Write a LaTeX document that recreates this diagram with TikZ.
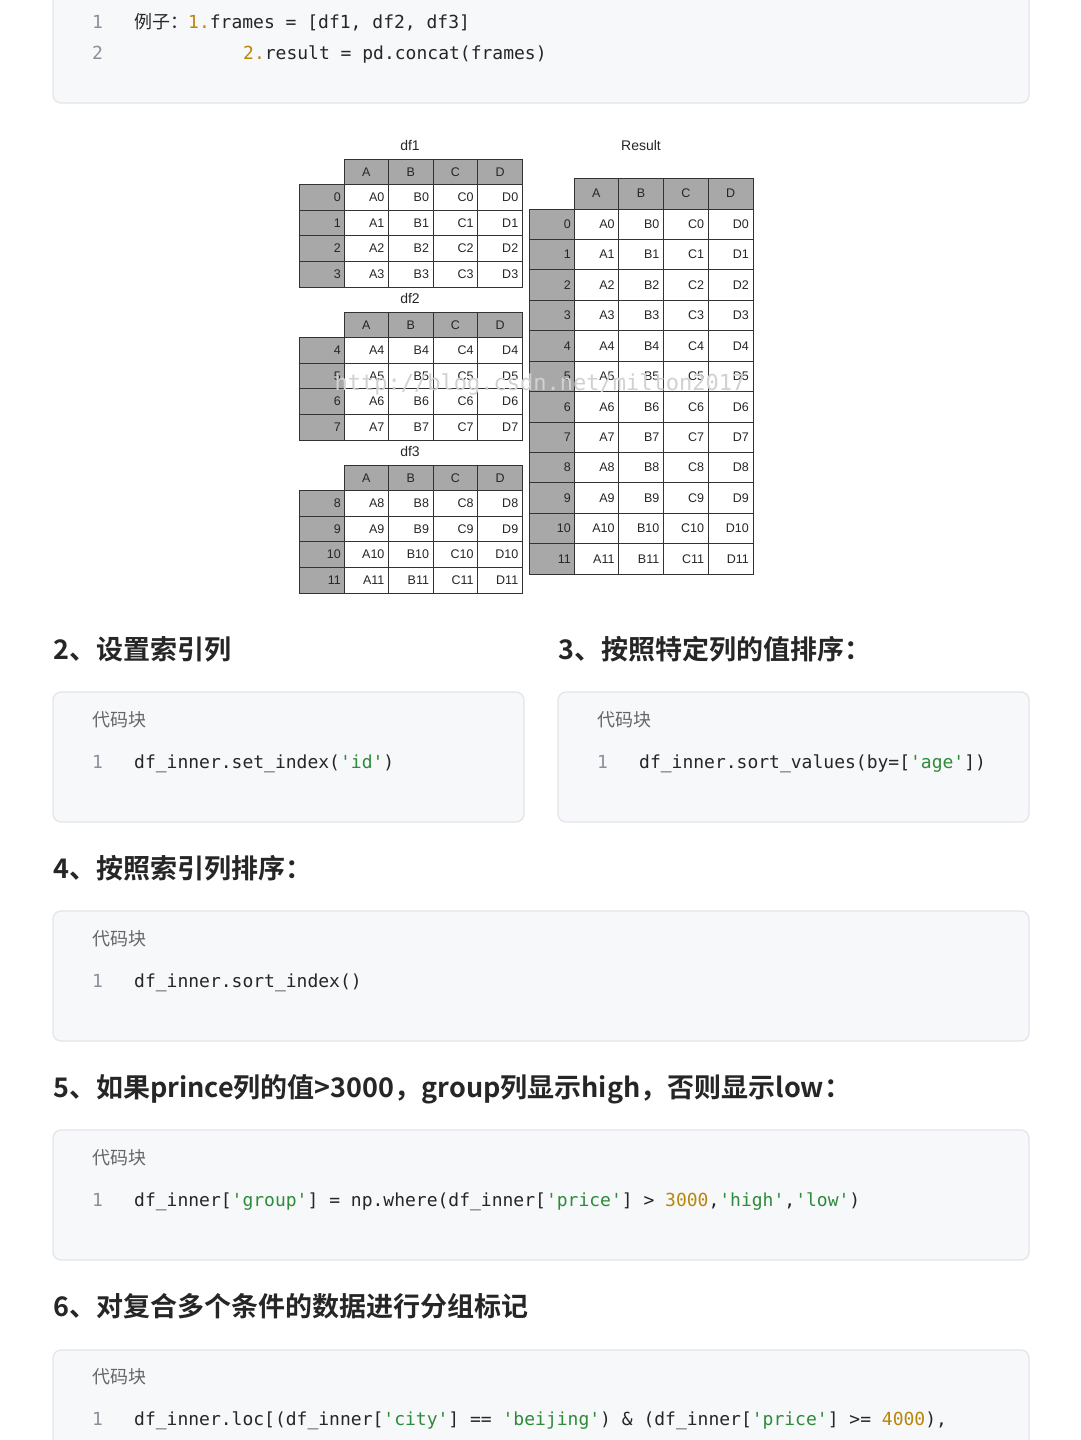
\documentclass[tikz,border=0pt]{standalone}
\usepackage{fontspec}
\setmainfont{Liberation Sans}
\setmonofont{DejaVu Sans Mono}
\newfontfamily\cjk{Noto Sans CJK SC}
\newfontfamily\cjkb{Noto Sans CJK SC Bold}
\newfontfamily\tabf{Liberation Sans}
\definecolor{blockbg}{HTML}{F7F8FA}
\definecolor{blockln}{HTML}{E2E4E8}
\definecolor{numc}{HTML}{8A8F98}
\definecolor{strc}{HTML}{2E8B3A}
\definecolor{numlit}{HTML}{B8860B}
\definecolor{hdr}{HTML}{A8A8A8}
\definecolor{grid}{HTML}{333333}
\tikzset{
 codeblock/.style={fill=blockbg,draw=blockln,line width=1.2pt,rounded corners=8pt},
 lnum/.style={anchor=base west,font=\ttfamily\fontsize{18}{18}\selectfont,text=numc,inner sep=0},
 code/.style={anchor=base west,font=\ttfamily\fontsize{18}{18}\selectfont,text=black!85,inner sep=0},
 blkcap/.style={anchor=base west,font=\cjk\fontsize{18}{18}\selectfont,text=black!60,inner sep=0},
 head/.style={anchor=base west,font=\cjkb\fontsize{27}{27}\selectfont,text=black!85,inner sep=0},
 cell/.style={anchor=east,font=\tabf\fontsize{12.5}{12.5}\selectfont,inner sep=0,text=black!85},
 hcell/.style={anchor=center,font=\tabf\fontsize{12.5}{12.5}\selectfont,inner sep=0,text=black!85},
 tlabel/.style={anchor=center,font=\tabf\fontsize{14}{14}\selectfont,inner sep=0,text=black!85},
}
\newcommand\mytable[7]{% x0, header top, header h, row h, first, last, col w
 \foreach \c [count=\i from 0] in {A,B,C,D}{
   \pgfmathsetmacro\xx{#1+45+\i*#7}
   \filldraw[fill=hdr,draw=grid,line width=0.8pt] (\xx,#2) rectangle ++(#7,#3);
   \node[hcell] (h\c#5) at (\xx+#7/2,#2+#3/2) {\c};
 }
 \foreach \r in {#5,...,#6}{
   \pgfmathsetmacro\yy{#2+#3+(\r-#5)*#4}
   \filldraw[fill=hdr,draw=grid,line width=0.8pt] (#1,\yy) rectangle ++(45,#4);
   \node[cell] (i\r-#5) at (#1+42,\yy+#4/2) {\r};
   \foreach \c [count=\i from 0] in {A,B,C,D}{
     \pgfmathsetmacro\xx{#1+45+\i*#7}
     \filldraw[fill=white,draw=grid,line width=0.8pt] (\xx,\yy) rectangle ++(#7,#4);
     \node[cell] (c\c\r-#5) at (\xx+#7-4,\yy+#4/2) {\c\r};
   }
 }
}
\begin{document}
\begin{tikzpicture}[x=1pt,y=-1pt]
\useasboundingbox (0,0) rectangle (1080,1440);
% top block
\draw[codeblock] (53,-20) rectangle (1029,103);
\node[lnum] (n1) at (92,28) {1};
\node[code] (l1) at (134,28) {{\cjk 例子：}\textcolor{numlit}{1.}frames = [df1, df2, df3]};
\node[lnum] (n2) at (92,59) {2};
\node[code] (l2) at (243,59) {\textcolor{numlit}{2.}result = pd.concat(frames)};
% tables
\node[tlabel] (df1) at (410,145) {df1};
\mytable{299}{159}{25.6}{25.6}{0}{3}{44.6}
\node[tlabel] (df2) at (410,298) {df2};
\mytable{299}{312}{25.6}{25.6}{4}{7}{44.6}
\node[tlabel] (df3) at (410,451) {df3};
\mytable{299}{465}{25.6}{25.6}{8}{11}{44.6}
\node[tlabel] (res) at (641,145) {Result};
\mytable{529}{178}{31}{30.42}{0}{11}{44.75}
\node[font=\ttfamily\fontsize{22}{22}\selectfont,text=black!18,inner sep=0] (wm) at (540,384) {http://blog.csdn.net/milton2017};
% section 2 and 3
\node[head] (s2) at (53,659) {2、设置索引列};
\node[head] (s3) at (558,659) {3、按照特定列的值排序：};
\draw[codeblock] (53,692) rectangle (524,822);
\draw[codeblock] (558,692) rectangle (1029,822);
\node[blkcap] (c2) at (92,726) {代码块};
\node[lnum] (n21) at (92,768) {1};
\node[code] (l21) at (134,768) {df\_inner.set\_index(\textcolor{strc}{'id'})};
\node[blkcap] (c3) at (597,726) {代码块};
\node[lnum] (n31) at (597,768) {1};
\node[code] (l31) at (639,768) {df\_inner.sort\_values(by=[\textcolor{strc}{'age'}])};
% section 4
\node[head] (s4) at (53,878) {4、按照索引列排序：};
\draw[codeblock] (53,911) rectangle (1029,1041);
\node[blkcap] (c4) at (92,945) {代码块};
\node[lnum] (n41) at (92,987) {1};
\node[code] (l41) at (134,987) {df\_inner.sort\_index()};
% section 5
\node[head] (s5) at (53,1097) {5、如果prince列的值>3000，group列显示high，否则显示low：};
\draw[codeblock] (53,1130) rectangle (1029,1260);
\node[blkcap] (c5) at (92,1164) {代码块};
\node[lnum] (n51) at (92,1206) {1};
\node[code] (l51) at (134,1206) {df\_inner[\textcolor{strc}{'group'}] = np.where(df\_inner[\textcolor{strc}{'price'}] > \textcolor{numlit}{3000},\textcolor{strc}{'high'},\textcolor{strc}{'low'})};
% section 6
\node[head] (s6) at (53,1316) {6、对复合多个条件的数据进行分组标记};
\draw[codeblock] (53,1350) rectangle (1029,1470);
\node[blkcap] (c6) at (92,1383) {代码块};
\node[lnum] (n61) at (92,1425) {1};
\node[code] (l61) at (134,1425) {df\_inner.loc[(df\_inner[\textcolor{strc}{'city'}] == \textcolor{strc}{'beijing'}) \& (df\_inner[\textcolor{strc}{'price'}] >= \textcolor{numlit}{4000}),};
\end{tikzpicture}
\end{document}
